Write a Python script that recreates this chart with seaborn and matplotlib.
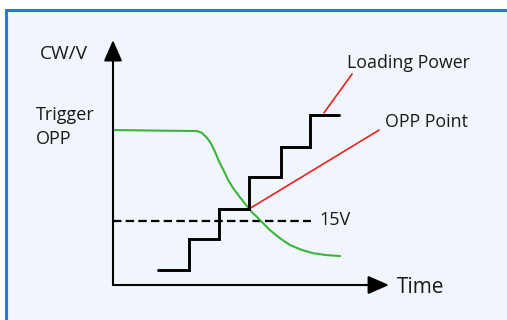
import matplotlib
matplotlib.use("Agg")
import matplotlib.pyplot as plt
import seaborn as sns
from matplotlib.patches import Rectangle

sns.set_style("white")
plt.rcParams['font.family'] = ['Open Sans', 'DejaVu Sans']

# ---- data (schematic units: time steps / level steps) ----
curve_t = [0.0, 2.57, 2.79, 2.96, 3.12, 3.26, 3.40, 3.54, 3.68, 3.84, 4.01, 4.23,
           4.46, 4.62, 4.79, 4.90, 5.23, 5.57, 5.90, 6.29, 6.68, 7.12, 7.57]
curve_v = [5.08, 5.05, 5.05, 4.99, 4.84, 4.65, 4.37, 4.04, 3.77, 3.44, 3.17, 2.88,
           2.59, 2.40, 2.24, 2.13, 1.80, 1.53, 1.31, 1.15, 1.04, 0.98, 0.95]

step_t = [1.5, 2.53, 3.53, 4.53, 5.6, 6.57, 7.53]
step_p = [0.49, 1.51, 2.49, 3.54, 4.52, 5.57, 5.57]

threshold_v = 2.1
threshold_t = [0.0, 6.6]

opp_pointer_t = [4.53, 8.87]
opp_pointer_v = [2.49, 5.08]
load_pointer_t = [7.03, 7.97]
load_pointer_v = [5.64, 6.92]

labels = {
    "yaxis": "CW/V",
    "trigger1": "Trigger",
    "trigger2": "OPP",
    "load": "Loading Power",
    "opp": "OPP Point",
    "thr": "15V",
    "xaxis": "Time",
}

# ---- figure ----
fig = plt.figure(figsize=(5.07, 3.2), dpi=100)
fig.patch.set_facecolor("white")
ax = fig.add_axes([0, 0, 1, 1])
ax.set_xlim(-113 / 30, (507 - 113) / 30)
ax.set_ylim((285 - 320) / 30.5, 285 / 30.5)
ax.axis("off")

# panel background with blue frame
ax.add_patch(Rectangle((-3.567, -3), 25, 9.0 + 3, facecolor="#f0f6fb",
                       edgecolor="#2a7ad0", lw=2.2, zorder=0))

# axes with arrows
arrow_kw = dict(arrowstyle="-|>,head_length=0.8,head_width=0.35", lw=1.5,
                color="black", shrinkA=0, shrinkB=0, mutation_scale=16)
ax.annotate("", xy=(0, 8.03), xytext=(0, 0), arrowprops=arrow_kw, zorder=5)
ax.annotate("", xy=(9.2, 0), xytext=(0, 0), arrowprops=arrow_kw, zorder=5)

# threshold dashed line
sns.lineplot(x=threshold_t, y=[threshold_v, threshold_v], ax=ax, color="black",
             lw=1.6, dashes=False, linestyle=(0, (3.8, 1.9)), zorder=2)

# green curve
sns.lineplot(x=curve_t, y=curve_v, ax=ax, color="#3cb43c", lw=1.5, zorder=3,
             solid_joinstyle="round")

# red pointers
sns.lineplot(x=opp_pointer_t, y=opp_pointer_v, ax=ax, color="#e8231f", lw=1.2, zorder=3)
sns.lineplot(x=load_pointer_t, y=load_pointer_v, ax=ax, color="#e8231f", lw=1.2, zorder=3)

# staircase loading power
sns.lineplot(x=step_t, y=step_p, ax=ax, color="black", lw=2.1,
             drawstyle="steps-post", solid_joinstyle="miter", zorder=4)

# texts
tc = "#1a1a1a"
ax.text(-2.433, 7.58, labels["yaxis"], fontsize=13.8, ha="left", va="center", color=tc)
ax.text(-2.567, 5.58, labels["trigger1"], fontsize=13, ha="left", va="center", color=tc)
ax.text(-2.567, 4.80, labels["trigger2"], fontsize=13, ha="left", va="center", color=tc)
ax.text(7.8, 7.28, labels["load"], fontsize=12.8, ha="left", va="center", color=tc)
ax.text(9.07, 5.36, labels["opp"], fontsize=12.8, ha="left", va="center", color=tc)
ax.text(6.87, 2.12, labels["thr"], fontsize=13, ha="left", va="center", color=tc)
ax.text(9.47, -0.07, labels["xaxis"], fontsize=15, ha="left", va="center", color=tc)

fig.savefig("out.png", dpi=100)
